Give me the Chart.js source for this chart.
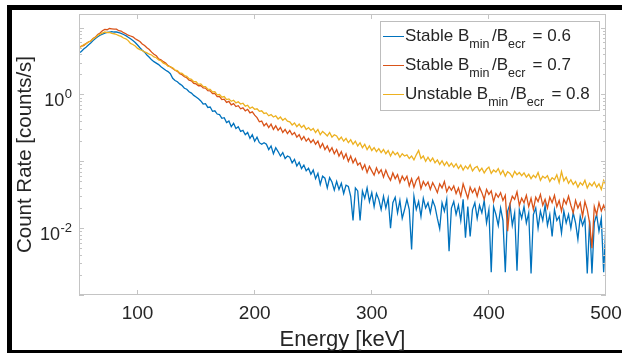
<!DOCTYPE html>
<html>
<head>
<meta charset="utf-8">
<script src="https://cdn.jsdelivr.net/npm/chart.js@4.4.1/dist/chart.umd.min.js"></script>
<style>
  html, body { margin: 0; padding: 0; background: #fff; overflow: hidden; }
  #spectrum { display: block; }
</style>
</head>
<body>
<canvas id="spectrum" width="622" height="353"></canvas>
<script>
// energy bins: 50 keV to 500 keV, 2 keV wide
const energyStart = 50;
const energyStep = 2;

const seriesLabels = [
  'Stable B_{min}/B_{ecr} = 0.6',
  'Stable B_{min}/B_{ecr} = 0.7',
  'Unstable B_{min}/B_{ecr} = 0.8'
];

// count rate [counts/s]
const stable06 = [
  4.2, 4.4, 4.8, 5.1, 5.5, 5.9, 6.4, 6.9, 7.3, 7.7,
  8.0, 8.3, 8.5, 8.6, 8.7, 8.6, 8.6, 8.4, 8.2, 7.9,
  7.6, 7.2, 6.8, 6.4, 6.0, 5.5, 5.0, 4.6, 4.3, 3.9,
  3.6, 3.3, 3.1, 2.95, 2.8, 2.6, 2.45, 2.3, 2.2, 2.05,
  1.75, 1.62, 1.55, 1.44, 1.36, 1.24, 1.2, 1.1, 1.05, 0.97,
  0.92, 0.86, 0.80, 0.72, 0.73, 0.64, 0.65, 0.56, 0.57, 0.51,
  0.50, 0.44, 0.45, 0.38, 0.40, 0.33, 0.37, 0.31, 0.33, 0.28,
  0.29, 0.25, 0.27, 0.22, 0.25, 0.20, 0.23, 0.19, 0.18, 0.19,
  0.18, 0.15, 0.17, 0.13, 0.16, 0.14, 0.12, 0.135, 0.11, 0.12,
  0.115, 0.095, 0.107, 0.085, 0.097, 0.078, 0.088, 0.072, 0.079, 0.064,
  0.074, 0.055, 0.066, 0.045, 0.060, 0.056, 0.040, 0.057, 0.049, 0.037,
  0.050, 0.038, 0.047, 0.033, 0.044, 0.042, 0.030, 0.013, 0.040, 0.036,
  0.013, 0.036, 0.028, 0.040, 0.025, 0.034, 0.021, 0.033, 0.027, 0.019,
  0.030, 0.020, 0.028, 0.010, 0.024, 0.029, 0.017, 0.026, 0.014, 0.019,
  0.027, 0.019, 0.0048, 0.030, 0.019, 0.025, 0.015, 0.028, 0.020, 0.024,
  0.017, 0.026, 0.021, 0.014, 0.0098, 0.024, 0.018, 0.027, 0.0045, 0.020,
  0.025, 0.016, 0.022, 0.013, 0.027, 0.0072, 0.021, 0.0075, 0.019, 0.024,
  0.014, 0.022, 0.017, 0.026, 0.012, 0.019, 0.0022, 0.021, 0.016, 0.011,
  0.020, 0.013, 0.0022, 0.018, 0.023, 0.011, 0.017, 0.0023, 0.019, 0.014,
  0.021, 0.012, 0.017, 0.0021, 0.016, 0.020, 0.010, 0.018, 0.013, 0.022,
  0.011, 0.016, 0.0075, 0.019, 0.013, 0.015, 0.0085, 0.018, 0.012, 0.016,
  0.010, 0.017, 0.012, 0.0068, 0.015, 0.011, 0.014, 0.0021, 0.013, 0.0021,
  0.012, 0.016, 0.009, 0.014, 0.0022, 0.012
];

const stable07 = [
  5.0, 5.3, 5.4, 5.8, 6.1, 6.3, 6.9, 7.2, 7.9, 8.3,
  9.0, 9.4, 9.3, 9.7, 9.6, 9.5, 9.5, 9.0, 8.9, 8.4,
  8.1, 7.7, 7.5, 7.3, 6.8, 6.5, 6.2, 5.7, 5.4, 5.0,
  4.7, 4.3, 4.0, 3.8, 3.4, 3.3, 3.1, 2.95, 2.7, 2.6,
  2.45, 2.30, 2.22, 2.05, 1.98, 1.84, 1.78, 1.64, 1.60, 1.47,
  1.44, 1.35, 1.36, 1.26, 1.25, 1.14, 1.13, 1.03, 1.04, 0.93,
  0.93, 0.84, 0.85, 0.76, 0.79, 0.70, 0.73, 0.66, 0.68, 0.61,
  0.63, 0.57, 0.60, 0.53, 0.55, 0.49, 0.45, 0.39, 0.40, 0.34,
  0.37, 0.32, 0.36, 0.30, 0.34, 0.29, 0.32, 0.27, 0.30, 0.26,
  0.29, 0.25, 0.27, 0.23, 0.25, 0.21, 0.235, 0.20, 0.22, 0.19,
  0.21, 0.18, 0.20, 0.16, 0.185, 0.15, 0.17, 0.14, 0.16, 0.13,
  0.15, 0.12, 0.14, 0.11, 0.13, 0.10, 0.12, 0.095, 0.11, 0.088,
  0.095, 0.076, 0.089, 0.068, 0.084, 0.072, 0.062, 0.080, 0.066, 0.075,
  0.058, 0.074, 0.060, 0.052, 0.067, 0.055, 0.063, 0.048, 0.060, 0.052,
  0.060, 0.043, 0.055, 0.041, 0.052, 0.058, 0.039, 0.050, 0.043, 0.049,
  0.038, 0.048, 0.041, 0.034, 0.046, 0.040, 0.050, 0.035, 0.042, 0.037,
  0.043, 0.033, 0.040, 0.030, 0.046, 0.036, 0.028, 0.041, 0.034, 0.039,
  0.030, 0.041, 0.034, 0.027, 0.038, 0.032, 0.036, 0.025, 0.033, 0.029,
  0.034, 0.026, 0.031, 0.009, 0.023, 0.030, 0.027, 0.035, 0.022, 0.028,
  0.024, 0.031, 0.021, 0.028, 0.019, 0.029, 0.025, 0.032, 0.022, 0.027,
  0.020, 0.029, 0.024, 0.031, 0.021, 0.026, 0.018, 0.027, 0.023, 0.030,
  0.022, 0.017, 0.026, 0.020, 0.024, 0.015, 0.025, 0.019, 0.012, 0.005,
  0.021, 0.016, 0.024, 0.018, 0.022, 0.017
];

const unstable08 = [
  5.1, 5.2, 5.6, 5.7, 6.1, 6.3, 6.8, 7.1, 7.7, 8.0,
  8.3, 8.6, 8.4, 8.5, 8.2, 8.1, 7.9, 7.6, 7.4, 7.0,
  6.8, 6.4, 5.8, 5.6, 5.3, 4.9, 4.7, 4.55, 4.35, 4.2,
  4.0, 3.9, 3.65, 3.55, 3.3, 3.2, 2.95, 2.85, 2.65, 2.6,
  2.5, 2.32, 2.27, 2.10, 2.07, 1.92, 1.87, 1.72, 1.69, 1.55,
  1.56, 1.42, 1.44, 1.32, 1.31, 1.20, 1.19, 1.09, 1.10, 0.99,
  1.0, 0.91, 0.93, 0.84, 0.86, 0.79, 0.82, 0.75, 0.78, 0.72,
  0.74, 0.67, 0.69, 0.62, 0.65, 0.60, 0.61, 0.56, 0.57, 0.52,
  0.53, 0.48, 0.50, 0.46, 0.48, 0.43, 0.46, 0.41, 0.44, 0.40,
  0.39, 0.35, 0.375, 0.33, 0.36, 0.32, 0.345, 0.30, 0.32, 0.29,
  0.31, 0.27, 0.30, 0.25, 0.28, 0.26, 0.24, 0.27, 0.23, 0.25,
  0.24, 0.21, 0.23, 0.20, 0.22, 0.19, 0.21, 0.18, 0.20, 0.17,
  0.19, 0.16, 0.18, 0.15, 0.17, 0.145, 0.16, 0.14, 0.155, 0.135,
  0.15, 0.13, 0.145, 0.12, 0.14, 0.125, 0.135, 0.115, 0.13, 0.12,
  0.125, 0.11, 0.12, 0.105, 0.125, 0.145, 0.11, 0.12, 0.10, 0.115,
  0.10, 0.112, 0.095, 0.105, 0.09, 0.102, 0.087, 0.098, 0.084, 0.094,
  0.082, 0.092, 0.078, 0.088, 0.074, 0.085, 0.077, 0.089, 0.072, 0.080,
  0.084, 0.071, 0.079, 0.067, 0.076, 0.082, 0.066, 0.074, 0.069, 0.078,
  0.064, 0.073, 0.060, 0.070, 0.066, 0.058, 0.071, 0.063, 0.068, 0.061,
  0.067, 0.058, 0.064, 0.055, 0.062, 0.057, 0.068, 0.052, 0.060, 0.056,
  0.061, 0.050, 0.057, 0.053, 0.063, 0.048, 0.070, 0.051, 0.058, 0.047,
  0.053, 0.045, 0.050, 0.041, 0.048, 0.044, 0.052, 0.040, 0.047, 0.043,
  0.049, 0.041, 0.046, 0.038, 0.052, 0.044
];

const xTickValues = [100, 200, 300, 400, 500];
const yLabelValues = [1, 0.01];
const yLabelExponents = ['0', '-2'];

const colors = ['#0072BD', '#D95319', '#EDB120'];
const FONT = '"Liberation Sans", Arial, Helvetica, sans-serif';
const TEXT = '#262626';

const energy = [];
for (let i = 0; i < stable06.length; i++) energy.push(energyStart + i * energyStep);

function toPoints(values) {
  return values.map((v, i) => ({ x: energy[i], y: v }));
}

// black frame round the figure, open on the right
const frame = {
  id: 'frame',
  beforeDraw(chart) {
    const { ctx, width, height } = chart;
    ctx.save();
    ctx.fillStyle = '#fff';
    ctx.fillRect(0, 0, width, height);
    ctx.fillStyle = '#000';
    ctx.fillRect(7, 5, width - 7, 5);
    ctx.fillRect(7, 5, 5, height - 5);
    ctx.fillRect(7, 350, width - 7, height - 350);
    ctx.restore();
  }
};

// MATLAB style box: inward ticks on all four sides, log minor ticks on y
const axesBox = {
  id: 'axesBox',
  afterDatasetsDraw(chart) {
    const { ctx, chartArea: a, scales: { x, y } } = chart;
    ctx.save();
    ctx.strokeStyle = '#c4c4c4';
    ctx.lineWidth = 1;
    ctx.strokeRect(a.left + 0.5, a.top + 0.5, a.right - a.left - 1, a.bottom - a.top - 1);
    ctx.beginPath();
    xTickValues.forEach(v => {
      const px = Math.round(x.getPixelForValue(v)) - 0.5;
      ctx.moveTo(px, a.bottom); ctx.lineTo(px, a.bottom - 5);
      ctx.moveTo(px, a.top); ctx.lineTo(px, a.top + 5);
    });
    for (let e = -3; e <= 1; e++) {
      for (let k = 1; k <= 9; k++) {
        const v = k * Math.pow(10, e);
        if (v < y.min || v > y.max) continue;
        const py = Math.round(y.getPixelForValue(v)) + 0.5;
        const len = k === 1 ? 5 : 3;
        ctx.moveTo(a.left, py); ctx.lineTo(a.left + len, py);
        ctx.moveTo(a.right, py); ctx.lineTo(a.right - len, py);
      }
    }
    ctx.stroke();

    // y tick labels as 10 with raised exponent
    ctx.fillStyle = TEXT;
    ctx.textBaseline = 'alphabetic';
    yLabelValues.forEach((v, i) => {
      const py = y.getPixelForValue(v);
      ctx.font = '13px ' + FONT;
      ctx.textAlign = 'right';
      ctx.fillText(yLabelExponents[i], 72, py + 4);
      const expW = ctx.measureText(yLabelExponents[i]).width;
      ctx.font = '18px ' + FONT;
      ctx.fillText('10', 72 - expW - 0.5, py + 11.5);
    });

    // legend with subscripts
    const box = { left: 380, top: 21, w: 219, h: 89 };
    ctx.fillStyle = '#fff';
    ctx.fillRect(box.left, box.top, box.w, box.h);
    ctx.strokeStyle = '#bdbdbd';
    ctx.strokeRect(box.left + 0.5, box.top + 0.5, box.w, box.h);
    chart.data.datasets.forEach((ds, i) => {
      const base = 40.5 + i * 29;
      ctx.strokeStyle = ds.borderColor;
      ctx.lineWidth = 1;
      ctx.beginPath();
      ctx.moveTo(383, base - 4); ctx.lineTo(404, base - 4);
      ctx.stroke();
      ctx.fillStyle = TEXT;
      ctx.textAlign = 'left';
      let tx = 405;
      ds.label.split(/(_\{[^}]*\})/).forEach(part => {
        if (!part) return;
        if (part.startsWith('_{')) {
          const s = part.slice(2, -1);
          ctx.font = '12.5px ' + FONT;
          ctx.fillText(s, tx, base + 7);
          tx += ctx.measureText(s).width + 2.5;
        } else {
          ctx.font = '17px ' + FONT;
          ctx.fillText(part, tx, base);
          tx += ctx.measureText(part).width;
        }
      });
    });
    ctx.restore();
  }
};

const ctx = document.getElementById('spectrum').getContext('2d');
const spectrumChart = new Chart(ctx, {
  type: 'line',
  data: {
    datasets: [
      { label: seriesLabels[0], data: toPoints(stable06), borderColor: colors[0], order: 3 },
      { label: seriesLabels[1], data: toPoints(stable07), borderColor: colors[1], order: 2 },
      { label: seriesLabels[2], data: toPoints(unstable08), borderColor: colors[2], order: 1 }
    ]
  },
  options: {
    responsive: false,
    animation: false,
    layout: { padding: { left: 0, right: 16, top: 14, bottom: 0 } },
    elements: {
      line: { borderWidth: 1.3, tension: 0, fill: false },
      point: { radius: 0, hoverRadius: 0 }
    },
    scales: {
      x: {
        type: 'linear',
        min: 50,
        max: 500,
        grid: { display: false, drawTicks: false },
        border: { display: false },
        afterBuildTicks: scale => { scale.ticks = xTickValues.map(v => ({ value: v })); },
        afterFit: scale => {
          scale.height = 58;
          scale.paddingLeft = 0;
          scale.paddingRight = 0;
        },
        ticks: {
          color: TEXT,
          font: { family: FONT, size: 19 },
          padding: 7,
          maxRotation: 0,
          autoSkip: false
        },
        title: {
          display: true,
          text: 'Energy [keV]',
          color: TEXT,
          font: { family: FONT, size: 22 },
          padding: { top: 0, bottom: 0 }
        }
      },
      y: {
        type: 'logarithmic',
        min: 0.001,
        max: 16,
        grid: { display: false, drawTicks: false },
        border: { display: false },
        ticks: { display: false },
        afterFit: scale => { scale.width = 79; },
        title: {
          display: true,
          text: 'Count Rate [counts/s]',
          color: TEXT,
          font: { family: FONT, size: 20.5 },
          padding: { top: 13, bottom: 0 }
        }
      }
    },
    plugins: {
      legend: { display: false },
      tooltip: { enabled: false }
    }
  },
  plugins: [frame, axesBox]
});
</script>
</body>
</html>
